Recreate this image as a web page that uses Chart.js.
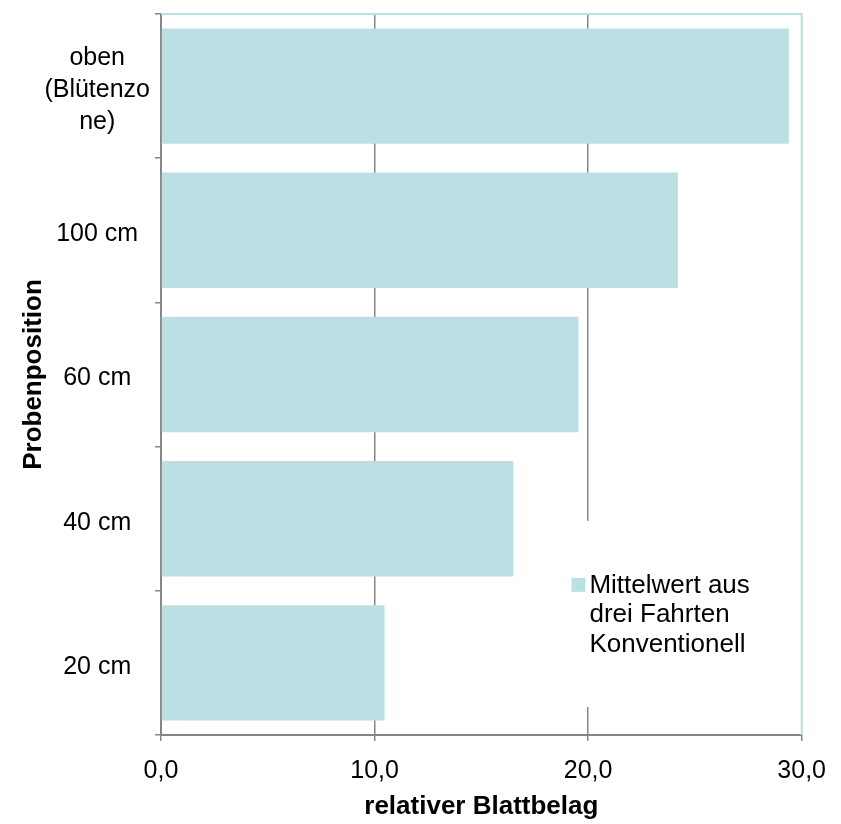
<!DOCTYPE html>
<html>
<head>
<meta charset="utf-8">
<script src="https://cdn.jsdelivr.net/npm/chart.js@4.4.1/dist/chart.umd.min.js"></script>
<style>body{margin:0;background:#fff}</style>
</head>
<body>
<canvas id="chart" width="841" height="824"></canvas>
<script>
// data
const categories = [["oben", "(Blütenzo", "ne)"], "100 cm", "60 cm", "40 cm", "20 cm"];
const values = [29.4, 24.2, 19.55, 16.5, 10.47];
const seriesLabel = ["Mittelwert aus", "drei Fahrten", "Konventionell"];
const xTitle = "relativer Blattbelag";
const yTitle = "Probenposition";

const barColor = "#bbe0e3";
const axisGray = "#868686";
const fontFamily = "'Liberation Sans', Arial, sans-serif";

// teal frame on top and right of the plot area
const framePlugin = {
    id: "frame",
    afterDatasetsDraw(chart) {
        const {ctx, chartArea: a} = chart;
        ctx.save();
        ctx.strokeStyle = barColor;
        ctx.lineWidth = 2;
        ctx.beginPath();
        ctx.moveTo(a.left, a.top);
        ctx.lineTo(a.right, a.top);
        ctx.lineTo(a.right, a.bottom);
        ctx.stroke();
        ctx.restore();
    }
};

// legend box sits inside the plot, white background hides the grid line
const legendPlugin = {
    id: "innerLegend",
    afterDraw(chart) {
        const {ctx, chartArea: a} = chart;
        const x0 = a.left + (a.right - a.left) * 0.625;
        const y0 = a.top + (a.bottom - a.top) * 0.703;
        ctx.save();
        ctx.fillStyle = "#fff";
        ctx.fillRect(x0, y0, 215, 186);
        ctx.fillStyle = barColor;
        ctx.fillRect(x0 + 10, y0 + 57, 14, 14);
        ctx.fillStyle = "#000";
        ctx.font = "26px " + fontFamily;
        ctx.textBaseline = "alphabetic";
        seriesLabel.forEach((line, i) => {
            ctx.fillText(line, x0 + 28, y0 + 72 + i * 29.5);
        });
        ctx.restore();
    }
};

const ctx = document.getElementById("chart").getContext("2d");
new Chart(ctx, {
    type: "bar",
    data: {
        labels: categories,
        datasets: [{
            label: seriesLabel.join(" "),
            data: values,
            backgroundColor: barColor,
            barPercentage: 0.8,
            categoryPercentage: 1.0
        }]
    },
    options: {
        indexAxis: "y",
        responsive: false,
        animation: false,
        layout: {padding: {top: 14, right: 38, left: 0, bottom: 0}},
        plugins: {
            legend: {display: false},
            tooltip: {enabled: false}
        },
        scales: {
            x: {
                min: 0,
                max: 30,
                afterFit(scale) { scale.height = 89; },
                ticks: {
                    stepSize: 10,
                    color: "#000",
                    padding: 15,
                    font: {family: fontFamily, size: 25},
                    callback: v => v.toFixed(1).replace(".", ",")
                },
                grid: {
                    color: c => (c.tick && c.tick.value === 30) ? barColor : axisGray,
                    lineWidth: 1.5,
                    tickColor: axisGray,
                    tickLength: 6
                },
                border: {color: axisGray, width: 2},
                title: {
                    display: true,
                    text: xTitle,
                    color: "#000",
                    font: {family: fontFamily, size: 26, weight: "bold"},
                    padding: {top: 0, bottom: 2}
                }
            },
            y: {
                afterFit(scale) {
                    scale.width = 161;
                    scale.paddingTop = 0;
                    scale.paddingBottom = 0;
                },
                ticks: {
                    color: "#000",
                    padding: 5,
                    labelOffset: 4,
                    crossAlign: "center",
                    font: {family: fontFamily, size: 25, lineHeight: 1.27}
                },
                grid: {
                    drawOnChartArea: false,
                    tickColor: axisGray,
                    tickLength: 6,
                    lineWidth: 1.5
                },
                border: {color: axisGray, width: 2},
                title: {
                    display: true,
                    text: yTitle,
                    color: "#000",
                    font: {family: fontFamily, size: 26, weight: "bold"},
                    padding: {top: 18, bottom: 0}
                }
            }
        }
    },
    plugins: [framePlugin, legendPlugin]
});
</script>
</body>
</html>
